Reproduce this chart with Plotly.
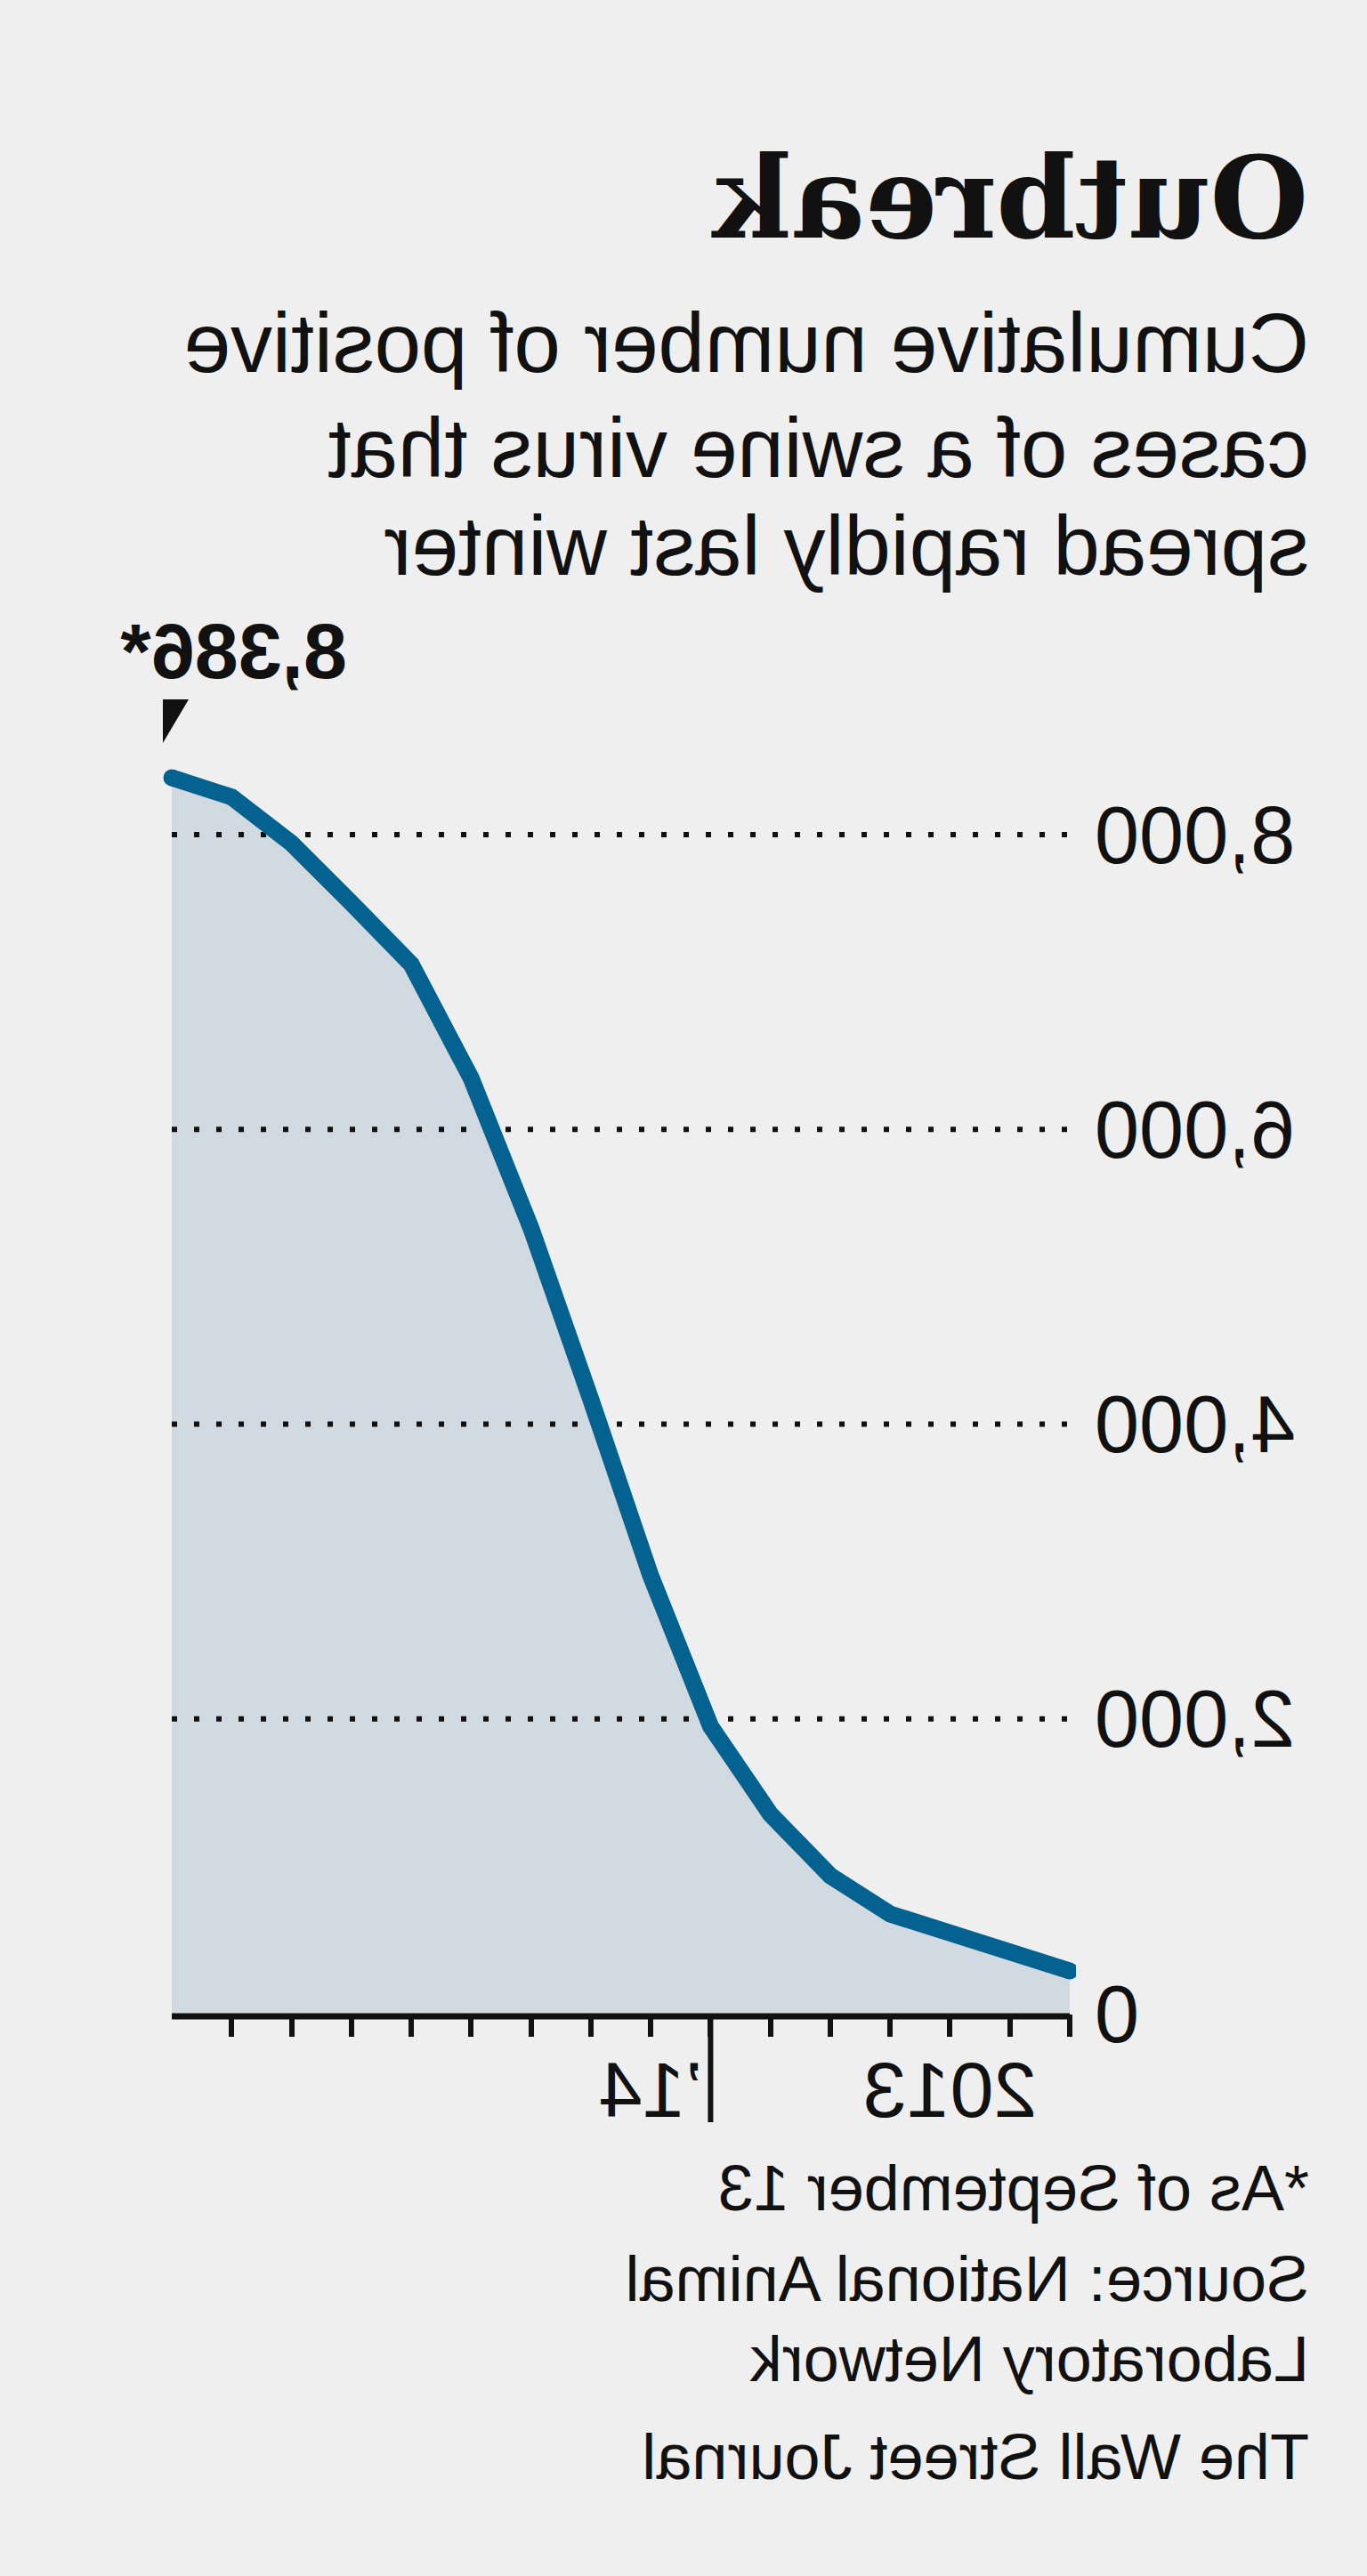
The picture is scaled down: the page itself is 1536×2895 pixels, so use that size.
"""
Outbreak - cumulative swine virus cases (mirrored page layout)
"""
import plotly.graph_objects as go

# ── Data ──────────────────────────────────────────────────────────────────────
period_index = list(range(16))
cases = [290, 423, 540, 676, 936, 1353, 1950, 2971, 4167, 5330,
         6347, 7120, 7536, 7941, 8255, 8386]
y_ticks = [0, 2000, 4000, 6000, 8000]
y_tick_text = ["0", "2,000", "4,000", "6,000", "8,000"]
x_ticks = list(range(15))
x_tick_text = ["", "", "2013", "", "", "", "", "\u201914", "", "", "", "", "", "", ""]
year_break = 6
last_label = "8,386*"

title_text = "Outbreak"
subtitle_lines = ["Cumulative number of positive",
                  "cases of a swine virus that",
                  "spread rapidly last winter"]
note_lines = ["*As of September 13",
              "Source: National Animal",
              "Laboratory Network",
              "The Wall Street Journal"]

# ── Page geometry (px) ────────────────────────────────────────────────────────
W, H = 1536, 2895
M_L, M_R, M_T, M_B = 327, 183, 760, 632
PW = W - M_L - M_R
PH = H - M_T - M_B
BOTTOM = H - M_B
Y_TOP = PH / 0.165625      # keeps 8,000 on the same pixel row as the reference

bg = "#efefef"
fill_col = "#d2dae1"
line_col = "#03628f"
ink = "#111111"
sans = "Liberation Sans, Arial, sans-serif"
serif = "DejaVu Serif, serif"


def px_x(px):
    return (px - M_L) / PW


def px_y(py):
    return (BOTTOM - py) / PH


fig = go.Figure()

# area under the curve
fig.add_trace(go.Scatter(
    x=period_index, y=cases, mode="lines", fill="tozeroy",
    fillcolor=fill_col, line=dict(width=0), hoverinfo="skip", showlegend=False
))

# dotted gridlines (above the fill, below the line)
for v in y_ticks[1:]:
    fig.add_trace(go.Scatter(
        x=[period_index[-1], -0.05], y=[v, v], mode="lines",
        line=dict(color=ink, width=6, dash="6px,19px"),
        hoverinfo="skip", showlegend=False
    ))

# the series line
fig.add_trace(go.Scatter(
    x=period_index, y=cases, mode="lines",
    line=dict(color=line_col, width=19), showlegend=False,
    hovertemplate="%{y:,}<extra></extra>"
))
# round caps at both ends
fig.add_trace(go.Scatter(
    x=[period_index[0], period_index[-1]], y=[cases[0], cases[-1]],
    mode="markers", marker=dict(size=19, color=line_col, line=dict(width=0)),
    hoverinfo="skip", showlegend=False
))

# ── Axis line and year separator ──────────────────────────────────────────────
fig.add_shape(type="line", xref="x", yref="paper",
              x0=period_index[0], x1=period_index[-1], y0=-3 / PH, y1=-3 / PH,
              line=dict(color=ink, width=7))
fig.add_shape(type="line", xref="x", yref="paper",
              x0=year_break, x1=year_break, y0=0, y1=-122 / PH,
              line=dict(color=ink, width=6))

# ── Latest value callout ──────────────────────────────────────────────────────
fig.add_shape(type="path", xref="x", yref="y",
              xsizemode="pixel", ysizemode="pixel",
              xanchor=period_index[-1], yanchor=cases[-1],
              path="M -19 88 L 13 88 L 13 34 Z",
              fillcolor=ink, line=dict(width=0))
fig.add_annotation(
    x=period_index[-1], y=cases[-1], xref="x", yref="y",
    text=f"<b>{last_label}</b>", showarrow=False,
    xanchor="right", yanchor="bottom", xshift=60, yshift=91,
    font=dict(family=sans, size=88, color=ink)
)

# ── Title block ───────────────────────────────────────────────────────────────
fig.add_annotation(
    x=px_x(64), y=px_y(265 - 0.928 * 127 - 1), xref="paper", yref="paper",
    text=f"<b>{title_text}</b>", showarrow=False,
    xanchor="left", yanchor="top",
    font=dict(family=serif, size=127, color=ink)
)
for line, base in zip(subtitle_lines, [417, 535, 645]):
    fig.add_annotation(
        x=px_x(63), y=px_y(base - 86), xref="paper", yref="paper",
        text=line, showarrow=False, xanchor="left", yanchor="top",
        font=dict(family=sans, size=94, color=ink)
    )

# ── Notes ─────────────────────────────────────────────────────────────────────
for line, base in zip(note_lines, [2483, 2585, 2675, 2785]):
    fig.add_annotation(
        x=px_x(63), y=px_y(base - 66), xref="paper", yref="paper",
        text=line, showarrow=False, xanchor="left", yanchor="top",
        font=dict(family=sans, size=72, color=ink)
    )

fig.update_layout(
    width=W, height=H,
    paper_bgcolor=bg, plot_bgcolor=bg,
    margin=dict(l=M_L, r=M_R, t=M_T, b=M_B, autoexpand=False),
    xaxis=dict(
        range=[-0.104, 15.149], showgrid=False, zeroline=False, showline=False,
        tickmode="array", tickvals=x_ticks, ticktext=x_tick_text,
        ticks="outside", ticklen=25, tickwidth=6, tickcolor=ink,
        ticklabelstandoff=-16,
        tickfont=dict(family=sans, size=88, color=ink)
    ),
    yaxis=dict(
        range=[0, Y_TOP], showgrid=False, zeroline=False, showline=False,
        tickmode="array", tickvals=y_ticks, ticktext=y_tick_text,
        ticks="", ticklabelstandoff=20,
        tickfont=dict(family=sans, size=90, color=ink)
    ),
    showlegend=False,
)

# the reference is a left-right mirror image of the graphic
mirror_js = (
    "document.body.style.margin='0';"
    "document.body.style.overflow='hidden';"
    "document.getElementById('{plot_id}').style.transform='scaleX(-1)';"
)
fig.write_html("out.html", config=dict(displayModeBar=False), post_script=mirror_js)
